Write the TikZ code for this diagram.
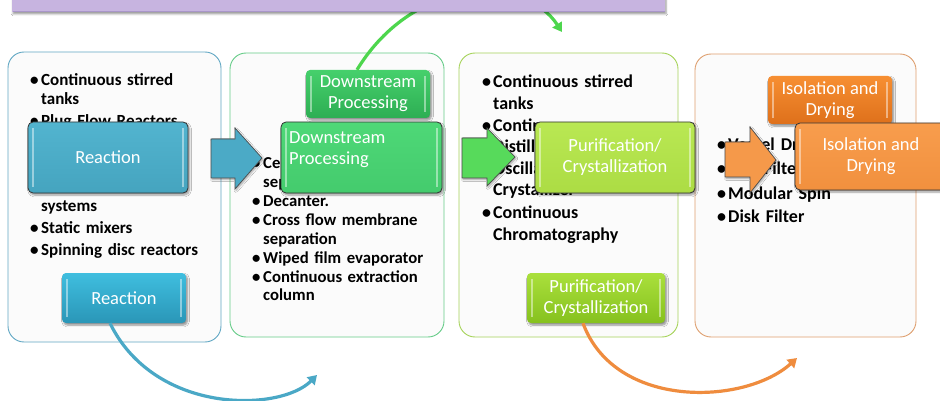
\documentclass[tikz,border=0pt]{standalone}
\usepackage{fontspec}
\setmainfont{Carlito}
\usetikzlibrary{arrows.meta,shadows.blur}

\definecolor{panelfill}{HTML}{FBFBFB}
\definecolor{pone}{HTML}{62A8C4}
\definecolor{ptwo}{HTML}{66CC88}
\definecolor{pthree}{HTML}{A6D35A}
\definecolor{pfour}{HTML}{DFA070}
\definecolor{barfill}{HTML}{C7B4E0}
\definecolor{baredge}{HTML}{A996C9}
\definecolor{reacA}{HTML}{52B4CF}
\definecolor{reacB}{HTML}{45A4BF}
\definecolor{reacC}{HTML}{3FBEDF}
\definecolor{reacD}{HTML}{2A96B7}
\definecolor{downA}{HTML}{4ED877}
\definecolor{downB}{HTML}{44CB6D}
\definecolor{downC}{HTML}{46D06C}
\definecolor{downD}{HTML}{2DAE53}
\definecolor{purA}{HTML}{B9E853}
\definecolor{purB}{HTML}{ACDC44}
\definecolor{purC}{HTML}{AAE03C}
\definecolor{purD}{HTML}{86C11E}
\definecolor{isoA}{HTML}{F89D4D}
\definecolor{isoB}{HTML}{F1903E}
\definecolor{isoC}{HTML}{F78F32}
\definecolor{isoD}{HTML}{DE701B}
\definecolor{arrblue}{HTML}{4BAAC6}
\definecolor{arrgreen}{HTML}{57DA5B}
\definecolor{arrorange}{HTML}{F5994A}
\definecolor{curveblue}{HTML}{4AA8C6}
\definecolor{curvegreen}{HTML}{4DD64D}
\definecolor{curveorange}{HTML}{EF8C3E}

\newcommand\bl[1]{\makebox[11pt][l]{\textbullet}#1}
\newcommand\cl[1]{\hspace*{11pt}#1}

\tikzset{
  panel/.style={rounded corners=16pt, fill=panelfill, line width=0.9pt},
  listtext/.style={anchor=base west, inner sep=0pt, text width=230pt, align=left},
  bevel/.style={path picture={
      \draw[white, opacity=.45, line width=1.6pt]
        ([xshift=5pt,yshift=-6pt]path picture bounding box.north west) --
        ([xshift=5pt,yshift=6pt]path picture bounding box.south west);
      \draw[white, opacity=.45, line width=1.6pt]
        ([xshift=-5pt,yshift=-6pt]path picture bounding box.north east) --
        ([xshift=-5pt,yshift=6pt]path picture bounding box.south east);}},
  smallbox/.style={rounded corners=4pt, text=white, align=center, inner sep=0pt,
      font=\fontsize{18.5}{21}\selectfont, bevel,
      blur shadow={shadow xshift=1.5pt, shadow yshift=-2pt, shadow blur steps=6, shadow opacity=45}},
  bigbox/.style={rounded corners=5pt, draw=black!80, line width=0.8pt, text=white,
      align=center, inner sep=0pt, font=\fontsize{18.5}{21}\selectfont, bevel,
      blur shadow={shadow xshift=1.5pt, shadow yshift=-2pt, shadow blur steps=6, shadow opacity=40}},
  boxlabel/.style={text=white, align=left, inner sep=0pt, font=\fontsize{18.5}{21}\selectfont},
  blockarrow/.style={draw=black!70, line width=0.7pt, line join=miter,
      blur shadow={shadow xshift=1pt, shadow yshift=-1.5pt, shadow blur steps=5, shadow opacity=35}},
  flow/.style={line width=3.2pt, -{Triangle[length=9pt,width=11pt]}}
}

\begin{document}
\begin{tikzpicture}[x=1pt, y=-1pt]
\useasboundingbox (0,0) rectangle (940,401);
\fill[white] (0,0) rectangle (940,401);

% stage panels
\draw[panel, draw=pone]   (8,52)   rectangle (221,342);
\draw[panel, draw=ptwo]   (230,53) rectangle (444,337);
\draw[panel, draw=pthree] (459,53) rectangle (678,337);
\draw[panel, draw=pfour]  (695,54) rectangle (916,337);

% equipment lists
\node[listtext, font=\fontsize{17}{21.3}\bfseries\selectfont] (listA) at (30,86) {%
  \bl{Continuous stirred}\\[-2.3pt]
  \cl{tanks}\\
  \bl{Plug Flow Reactors}\\
  \bl{Microreactors}\\
  \bl{Oscillatory baffled}\\
  \cl{flow reactor}\\
  \cl{systems}\\[1pt]
  \bl{Static mixers}\\
  \bl{Spinning disc reactors}};

\node[listtext, font=\fontsize{16.7}{19}\bfseries\selectfont] (listB) at (252,168) {%
  \bl{Centrifugal}\\
  \cl{separators}\\
  \bl{Decanter.}\\
  \bl{Cross flow membrane}\\
  \cl{separation}\\
  \bl{Wiped film evaporator}\\
  \bl{Continuous extraction}\\
  \cl{column}};

\node[listtext, font=\fontsize{18}{21.3}\bfseries\selectfont] (listC) at (482,88) {%
  \bl{Continuous stirred}\\
  \cl{tanks}\\[1pt]
  \bl{Continuous}\\
  \cl{Distillation,}\\
  \cl{Oscillatory Baffled}\\
  \cl{Crystallizer}\\[2pt]
  \bl{Continuous}\\
  \cl{Chromatography}};

\node[listtext, font=\fontsize{18}{24}\bfseries\selectfont] (listD) at (717,151) {%
  \bl{Vessel Dryer}\\
  \bl{Belt Filter}\\
  \bl{Modular Spin}\\
  \bl{Disk Filter}};

% small stage labels
\node[smallbox, top color=reacC, bottom color=reacD, minimum width=124pt, minimum height=50pt]
  (rsmall) at (124,298) {Reaction};
\node[smallbox, top color=downC, bottom color=downD, minimum width=124pt, minimum height=48pt]
  (dsmall) at (368,94) {Downstream\\Processing};
\node[smallbox, top color=purC, bottom color=purD, minimum width=138pt, minimum height=50pt]
  (psmall) at (596,298) {Purification/\\Crystallization};
\node[smallbox, top color=isoC, bottom color=isoD, minimum width=124pt, minimum height=48pt]
  (ismall) at (830,100) {Isolation and\\Drying};

% curved transfers between stages
\coordinate (blueend)   at (317,375);
\coordinate (orangeend) at (797,358);
\coordinate (greenend)  at (562,32);
\draw[flow, curveblue] ([xshift=-14pt]rsmall.south) .. controls (155,415) and (280,412) .. (blueend);
\draw[flow, curveorange] ([xshift=-13pt]psmall.south) .. controls (615,410) and (745,405) .. (orangeend);
\draw[flow, curvegreen] ([xshift=-11pt]dsmall.north) .. controls (415,-25) and (525,-25) .. (greenend);

% header bar
\fill[barfill, blur shadow={shadow xshift=1pt, shadow yshift=-2pt, shadow blur steps=5, shadow opacity=40}]
  (12,-6) rectangle (665,12);
\draw[baredge, line width=1.4pt] (13,11.5) -- (665,11.5);

% large stage labels
\node[bigbox, top color=reacA, bottom color=reacB, minimum width=160pt, minimum height=71pt]
  (rbig) at (108,157.5) {Reaction};
\node[bigbox, top color=downA, bottom color=downB, minimum width=161pt, minimum height=71pt]
  (dbig) at (361.5,157.5) {};
\node[boxlabel, anchor=north west] (dbigtext) at (289,131) {Downstream\\Processing};
\node[bigbox, top color=purA, bottom color=purB, minimum width=160pt, minimum height=71pt]
  (pbig) at (615,157.5) {Purification/\\Crystallization};
\node[bigbox, top color=isoA, bottom color=isoB, minimum width=152pt, minimum height=67pt]
  (ibig) at (871,156.5) {Isolation and\\Drying};

% block arrows between stages
\draw[blockarrow, fill=arrblue]
  (211,139) -- (235,139) -- (235,128) -- (262,158) -- (235,189) -- (235,178) -- (211,178) -- cycle;
\draw[blockarrow, fill=arrgreen]
  (462,138) -- (487,138) -- (487,128) -- (515,157) -- (487,186) -- (487,178) -- (462,178) -- cycle;
\draw[blockarrow, fill=arrorange]
  (725,142) -- (750,142) -- (750,127) -- (776,160) -- (750,193) -- (750,177) -- (725,177) -- cycle;

\end{tikzpicture}
\end{document}
